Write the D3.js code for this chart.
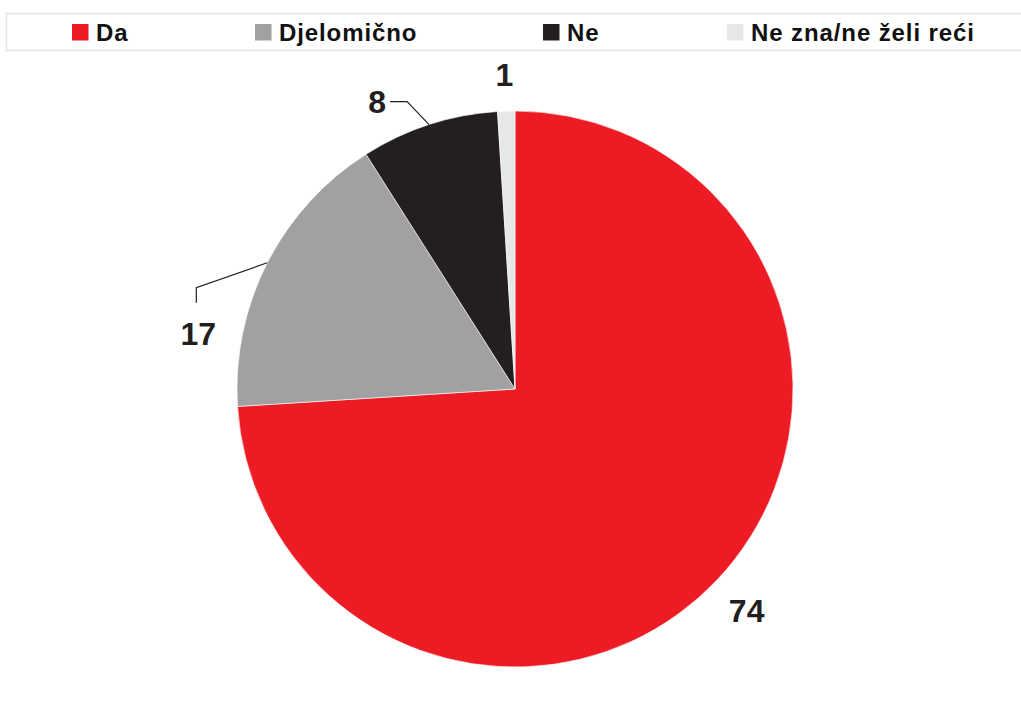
<!DOCTYPE html>
<html>
<head>
<meta charset="utf-8">
<script src="https://cdn.jsdelivr.net/npm/d3@7"></script>
<style>
  html, body { margin: 0; padding: 0; background: #fff; }
  svg { display: block; }
  text { font-family: "Liberation Sans", Arial, sans-serif; font-weight: bold; }
</style>
</head>
<body>
<svg id="chart" width="1021" height="702"></svg>
<script>
const categories = ["Da", "Djelomično", "Ne", "Ne zna/ne želi reći"];
const values = [74, 17, 8, 1];
const colors = ["#ED1C24", "#A1A1A4", "#231F20", "#E6E7E8"];

const svg = d3.select("#chart");
const cx = 515, cy = 389, R = 278;

// Legend
svg.append("rect")
  .attr("x", 6.5).attr("y", 13.5).attr("width", 1020).attr("height", 37)
  .attr("fill", "#fff").attr("stroke", "#e3e3e3").attr("stroke-width", 1.5);
const legendX = [72, 255, 543, 727];
const legend = svg.append("g").selectAll("g").data(categories).join("g")
  .attr("transform", (d, i) => `translate(${legendX[i]},24)`);
legend.append("rect").attr("width", 16.5).attr("height", 16.5)
  .attr("fill", (d, i) => colors[i]);
legend.append("text").attr("x", 24).attr("y", 16.5)
  .attr("font-size", 24).attr("letter-spacing", 0.9).attr("fill", "#111")
  .text(d => d);

// Pie
const data = categories.map((c, i) => ({ cat: c, value: values[i], color: colors[i] }));
const pie = d3.pie().value(d => d.value).sort(null);
const arcs = pie(data);
const arc = d3.arc().innerRadius(0).outerRadius(R);
const g = svg.append("g").attr("transform", `translate(${cx},${cy})`);
g.selectAll("path").data(arcs).join("path")
  .attr("d", arc).attr("fill", d => d.data.color)
  .attr("stroke", "#fff").attr("stroke-width", 0.6);

// Labels
function edge(d, r) {
  const a = (d.startAngle + d.endAngle) / 2;
  return [r * Math.sin(a), -r * Math.cos(a)];
}
const labelCfg = [
  { dx: 29, dy: 43, leader: null },
  { dx: -69, dy: 82, leader: [[-71, 25], [-71, 40]] },
  { dx: -52, dy: -12, leader: [[-22, -23], [-39, -23]] },
  { dx: -2, dy: -25, leader: null }
];
arcs.forEach((d, i) => {
  const [ex, ey] = edge(d, R);
  const cfg = labelCfg[i];
  if (cfg.leader) {
    const pts = [[ex, ey]].concat(cfg.leader.map(p => [ex + p[0], ey + p[1]]));
    g.append("path").attr("d", d3.line()(pts))
      .attr("fill", "none").attr("stroke", "#231F20").attr("stroke-width", 1.2);
  }
  g.append("text")
    .attr("x", ex + cfg.dx).attr("y", ey + cfg.dy)
    .attr("text-anchor", "middle")
    .attr("font-size", 32).attr("fill", "#231F20")
    .text(d.data.value);
});
</script>
</body>
</html>
